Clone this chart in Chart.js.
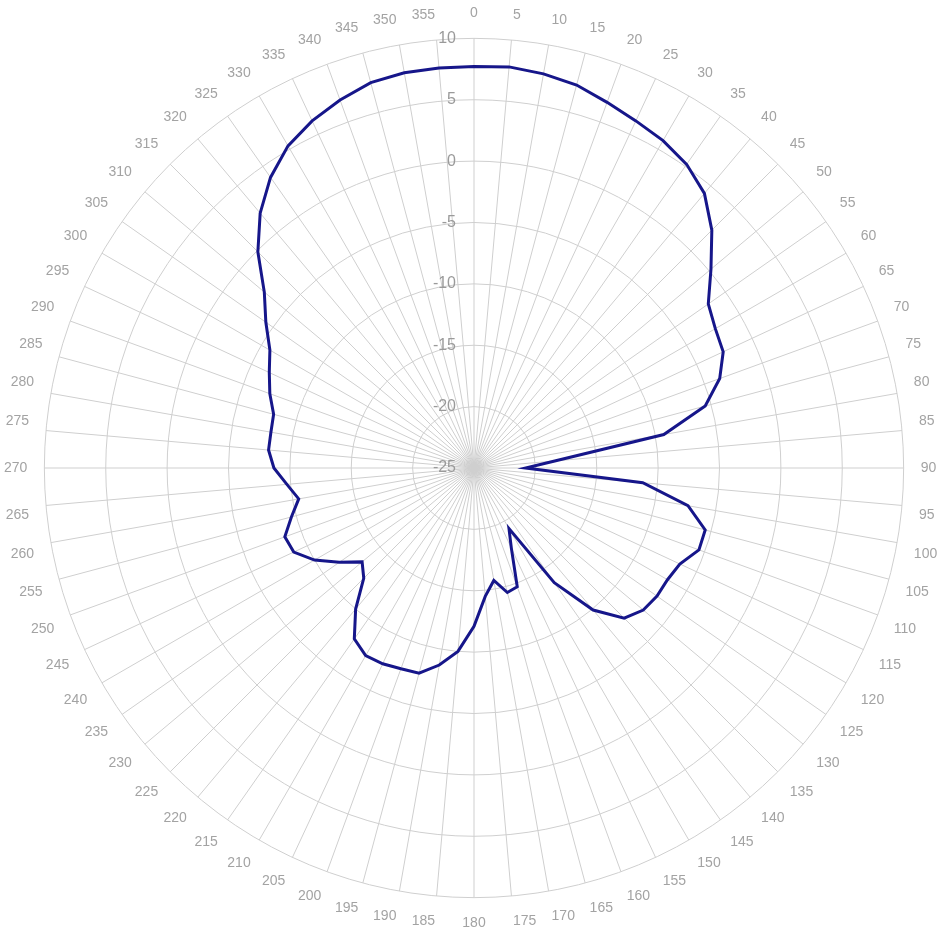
<!DOCTYPE html>
<html>
<head>
<meta charset="utf-8">
<title>Antenna pattern</title>
<script src="https://cdn.jsdelivr.net/npm/chart.js@4/dist/chart.umd.min.js"></script>
<style>
  html, body { margin: 0; padding: 0; background: #ffffff; overflow: hidden; }
  #wrap { position: relative; width: 937px; height: 934px; overflow: hidden; }
  #chart { position: absolute; left: 1px; top: -2px; }
</style>
</head>
<body>
<div id="wrap"><canvas id="chart" width="940" height="940"></canvas></div>
<script>
// Azimuth angles (degrees) around the dial
const angles = [
  '0','5','10','15','20','25','30','35','40','45','50','55',
  '60','65','70','75','80','85','90','95','100','105','110','115',
  '120','125','130','135','140','145','150','155','160','165','170','175',
  '180','185','190','195','200','205','210','215','220','225','230','235',
  '240','245','250','255','260','265','270','275','280','285','290','295',
  '300','305','310','315','320','325','330','335','340','345','350','355'
];

// Gain (dB) measured at each azimuth
const gain = [
   7.7,  7.8,  7.6,  7.3,  6.7,  6.2,  5.8,  5.2,  4.2,  2.4,  0.2, -1.7,
  -2.3, -2.6, -3.7, -5.5, -9.3,-18.4,-20.8,-11.2, -7.3, -5.5, -5.5, -6.5,
  -6.8, -6.8, -7.0, -7.7, -9.9,-13.6,-19.3,-17.8,-14.7,-14.5,-15.7,-14.5,
 -12.1,-10.0, -8.7, -7.7, -7.6, -7.4, -7.35,-8.0,-10.0,-12.3,-13.1,-11.6,
 -10.0, -8.8, -8.6, -9.6,-10.5, -9.7, -8.7, -8.2, -8.2, -8.1, -7.3, -6.6,
  -5.8, -4.3, -2.7, -0.1,  2.1,  3.9,  5.3,  6.2,  6.9,  7.5,  7.7,  7.7
];

// Radial scale ticks (dB)
const radialTicks = [-25, -20, -15, -10, -5, 0, 5, 10];

const FONT = "'Liberation Sans', Arial, Helvetica, sans-serif";

// Draws the dB values just left of the vertical spoke, centred on each ring
const ringLabels = {
  id: 'ringLabels',
  afterDatasetsDraw(chart) {
    const scale = chart.scales.r;
    const ctx = chart.ctx;
    ctx.save();
    ctx.font = '16px ' + FONT;
    ctx.fillStyle = '#9a9a9a';
    ctx.textAlign = 'right';
    ctx.textBaseline = 'middle';
    radialTicks.forEach(v => {
      const d = scale.getDistanceFromCenterForValue(v);
      ctx.fillText(String(v), scale.xCenter - 18, scale.yCenter - d);
    });
    ctx.restore();
  }
};

new Chart(document.getElementById('chart'), {
  type: 'radar',
  data: {
    labels: angles,
    datasets: [{
      data: gain,
      borderColor: '#16168a',
      borderWidth: 3,
      fill: false,
      pointRadius: 0,
      pointHoverRadius: 0,
      tension: 0
    }]
  },
  options: {
    responsive: false,
    animation: false,
    plugins: {
      legend: { display: false },
      tooltip: { enabled: false }
    },
    scales: {
      r: {
        min: radialTicks[0],
        max: radialTicks[radialTicks.length - 1],
        beginAtZero: false,
        ticks: { stepSize: 5, display: false },
        grid: { circular: true, color: '#cfcfcf', lineWidth: 1 },
        angleLines: { color: '#cfcfcf', lineWidth: 1 },
        pointLabels: {
          color: '#a3a3a3',
          padding: 17,
          font: { size: 14, family: FONT }
        }
      }
    }
  },
  plugins: [ringLabels]
});
</script>
</body>
</html>
